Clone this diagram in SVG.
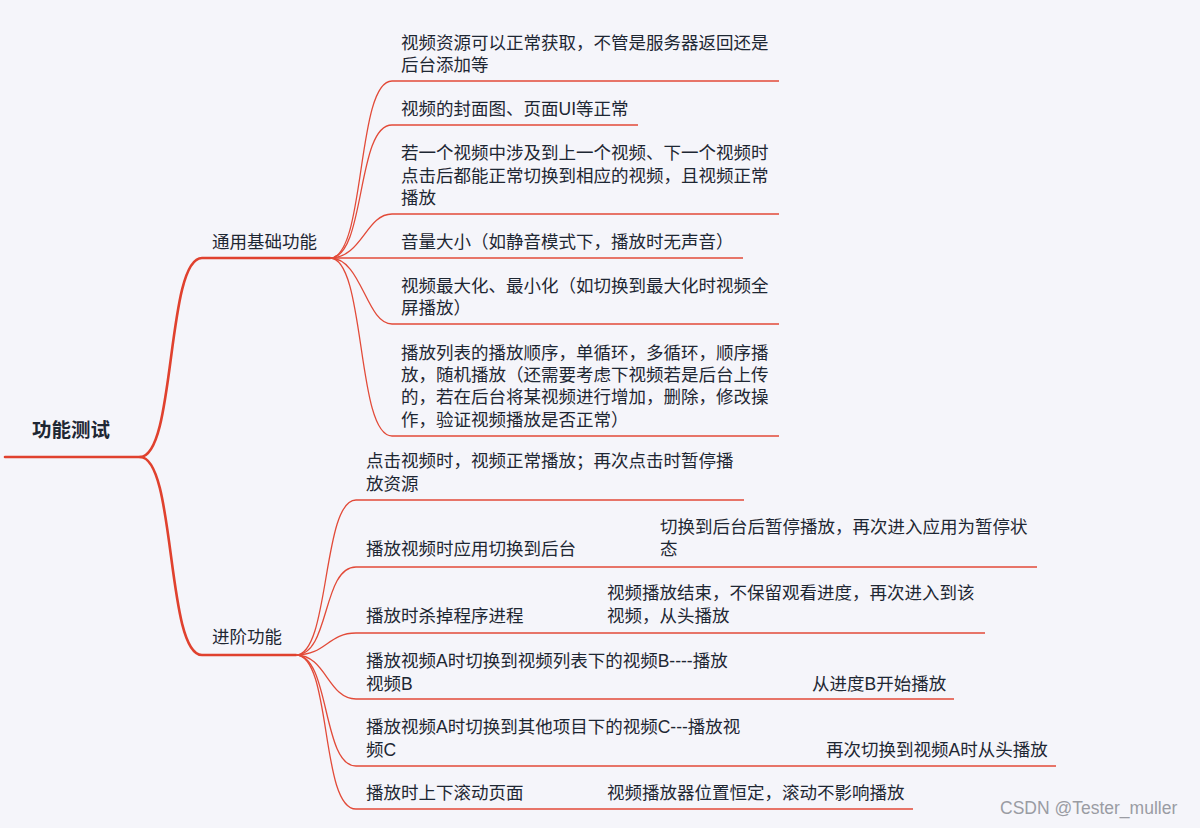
<svg xmlns="http://www.w3.org/2000/svg" width="1200" height="828" viewBox="0 0 1200 828">
<style>
.t{font-family:"Liberation Sans","Noto Sans CJK SC",sans-serif;font-size:17.5px;fill:#1e2733}
.r{font-family:"Noto Sans CJK SC","Noto Sans",sans-serif;font-size:19.5px;font-weight:bold;fill:#1e2733}
.w{font-family:"Liberation Sans","Noto Sans",sans-serif;font-size:17.5px;fill:#9a9ca3}
.m{fill:none;stroke:#e0412e;stroke-width:2.6;stroke-linecap:round}
.c{fill:none;stroke:#e24a38;stroke-width:1.3}
</style>
<rect width="1200" height="828" fill="#f5f5fa"/>
<g id="connectors">
<path class="m" d="M5,457 H140 C176,457 166,258 202,258 H330"/>
<path class="m" d="M140,457 C176,457 166,655 202,655 H296"/>
<path class="c" d="M330,258 C366,258 356,81 392,81 H779"/>
<path class="c" d="M330,258 C366,258 356,125 392,125 H638"/>
<path class="c" d="M330,258 C362,258 366,214 392,214 H779"/>
<path class="c" d="M330,258 H743"/>
<path class="c" d="M330,258 C362,258 366,324 392,324 H779"/>
<path class="c" d="M330,258 C366,258 356,436 392,436 H779"/>
<path class="c" d="M296,655 C330,655 322,500 356,500 H744"/>
<path class="c" d="M296,655 C330,655 322,567 356,567 H1037"/>
<path class="c" d="M296,655 C326,655 328,633 356,633 H985"/>
<path class="c" d="M296,655 C326,655 328,699 356,699 H954"/>
<path class="c" d="M296,655 C330,655 322,766 356,766 H1056"/>
<path class="c" d="M296,655 C332,655 320,809 356,809 H913"/>
</g>
<g id="root"><text class="r" x="32" y="437">功能测试</text></g>
<g id="basic"><text class="t" x="212" y="248">通用基础功能</text></g>
<g id="b1"><text class="t" x="401" y="49">视频资源可以正常获取，不管是服务器返回还是<tspan x="401" y="71">后台添加等</tspan></text></g>
<g id="b2"><text class="t" x="401" y="115">视频的封面图、页面UI等正常</text></g>
<g id="b3"><text class="t" x="401" y="159">若一个视频中涉及到上一个视频、下一个视频时<tspan x="401" y="182">点击后都能正常切换到相应的视频，且视频正常</tspan><tspan x="401" y="204">播放</tspan></text></g>
<g id="b4"><text class="t" x="401" y="248">音量大小（如静音模式下，播放时无声音）</text></g>
<g id="b5"><text class="t" x="401" y="292">视频最大化、最小化（如切换到最大化时视频全<tspan x="401" y="314">屏播放）</tspan></text></g>
<g id="b6"><text class="t" x="401" y="359">播放列表的播放顺序，单循环，多循环，顺序播<tspan x="401" y="381">放，随机播放（还需要考虑下视频若是后台上传</tspan><tspan x="401" y="403">的，若在后台将某视频进行增加，删除，修改操</tspan><tspan x="401" y="426">作，验证视频播放是否正常）</tspan></text></g>
<g id="adv"><text class="t" x="212" y="643">进阶功能</text></g>
<g id="a1"><text class="t" x="366" y="467">点击视频时，视频正常播放；再次点击时暂停播<tspan x="366" y="490">放资源</tspan></text></g>
<g id="a2"><text class="t" x="366" y="555">播放视频时应用切换到后台</text></g>
<g id="a2c"><text class="t" x="660" y="533">切换到后台后暂停播放，再次进入应用为暂停状<tspan x="660" y="555">态</tspan></text></g>
<g id="a3"><text class="t" x="366" y="622">播放时杀掉程序进程</text></g>
<g id="a3c"><text class="t" x="607" y="599">视频播放结束，不保留观看进度，再次进入到该<tspan x="607" y="622">视频，从头播放</tspan></text></g>
<g id="a4"><text class="t" x="366" y="667">播放视频A时切换到视频列表下的视频B----播放<tspan x="366" y="690">视频B</tspan></text></g>
<g id="a4c"><text class="t" x="812" y="690">从进度B开始播放</text></g>
<g id="a5"><text class="t" x="366" y="733">播放视频A时切换到其他项目下的视频C---播放视<tspan x="366" y="756">频C</tspan></text></g>
<g id="a5c"><text class="t" x="826" y="756">再次切换到视频A时从头播放</text></g>
<g id="a6"><text class="t" x="366" y="799">播放时上下滚动页面</text></g>
<g id="a6c"><text class="t" x="607" y="799">视频播放器位置恒定，滚动不影响播放</text></g>
<text class="w" x="1000" y="814">CSDN @Tester_muller</text>
</svg>
